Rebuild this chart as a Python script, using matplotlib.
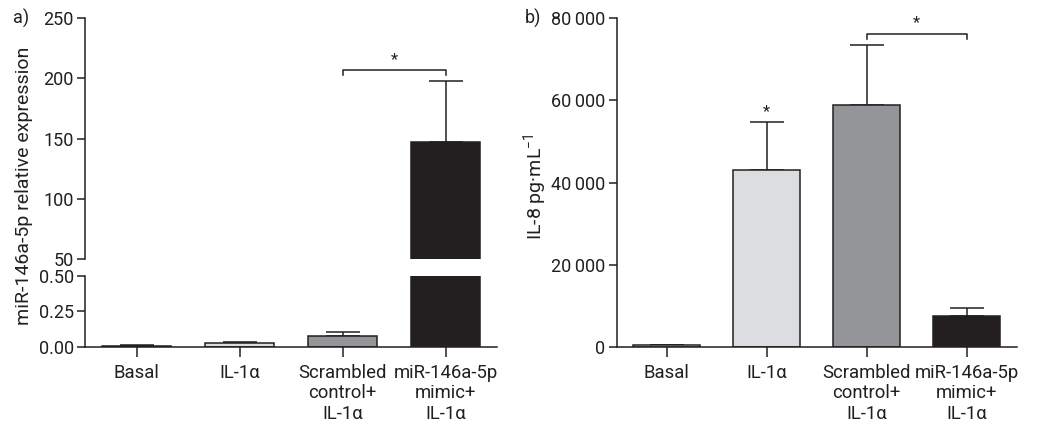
import matplotlib
matplotlib.use("Agg")
import matplotlib.pyplot as plt
import numpy as np

plt.rcParams['font.family'] = ['Roboto', 'DejaVu Sans']
plt.rcParams['mathtext.fontset'] = 'custom'
plt.rcParams['mathtext.rm'] = 'Roboto'
plt.rcParams['mathtext.it'] = 'Roboto'

categories = ["Basal", "IL-1\u03b1", "Scrambled\ncontrol+\nIL-1\u03b1", "miR-146a-5p\nmimic+\nIL-1\u03b1"]
mir_mean = [0.010, 0.025, 0.079, 147.4]
mir_err = [0.003, 0.008, 0.028, 50.4]
il8_mean = [410, 43000, 58800, 7600]
il8_err = [150, 11800, 14600, 1950]
bar_colors = ["#ffffff", "#dcdde0", "#939598", "#231f20"]

upper_ticks = [50, 100, 150, 200, 250]
lower_ticks = [0.0, 0.25, 0.50]
lower_ticklabels = ["0.00", "0.25", "0.50"]
il8_ticks = [0, 20000, 40000, 60000, 80000]
il8_ticklabels = ["0", "20\u2009000", "40\u2009000", "60\u2009000", "80\u2009000"]

W, H = 1048, 425
fig = plt.figure(figsize=(W / 100, H / 100), dpi=100)

def rect(x0, y0, x1, y1):
    return [x0 / W, 1 - y1 / H, (x1 - x0) / W, (y1 - y0) / H]

ax_up = fig.add_axes(rect(85, 18, 497, 259))
ax_lo = fig.add_axes(rect(85, 275.7, 497, 347))
ax_b = fig.add_axes(rect(616.7, 18, 1016.7, 347))

x = np.arange(len(categories))
bw = 0.67
lw = 1.1
tick_fs = 13
xlab_fs = 13.3
lab_fs = 14
cap = 12

def style(ax, bottom=True):
    for s in ["top", "right"]:
        ax.spines[s].set_visible(False)
    ax.spines["bottom"].set_visible(bottom)
    for s in ["left", "bottom"]:
        ax.spines[s].set_linewidth(lw)
        ax.spines[s].set_color("#231f20")
    ax.tick_params(axis="y", length=6, width=lw, labelsize=tick_fs, pad=2, colors="#231f20")
    ax.tick_params(axis="x", length=7, width=lw, labelsize=xlab_fs, pad=5, colors="#231f20")
    ax.set_xlim(-0.5, 3.5)

# Panel a upper
ax_up.bar(x, mir_mean, width=bw, color=bar_colors, edgecolor="#231f20", linewidth=lw, zorder=2)
ax_up.errorbar(x, mir_mean, yerr=[np.zeros(4), mir_err], fmt="none", ecolor="#231f20",
               elinewidth=lw, capsize=cap, capthick=lw, zorder=1)
ax_up.set_ylim(50, 250)
ax_up.set_yticks(upper_ticks)
ax_up.set_xticks([])
style(ax_up, bottom=False)

# Panel a lower
ax_lo.bar(x, mir_mean, width=bw, color=bar_colors, edgecolor="#231f20", linewidth=lw, zorder=2)
ax_lo.errorbar(x, mir_mean, yerr=[np.zeros(4), mir_err], fmt="none", ecolor="#231f20",
               elinewidth=lw, capsize=cap, capthick=lw, zorder=1)
ax_lo.set_ylim(0, 0.5)
ax_lo.set_yticks(lower_ticks)
ax_lo.set_yticklabels(lower_ticklabels)
ax_lo.set_xticks(x)
ax_lo.set_xticklabels(categories, linespacing=1.2)
style(ax_lo)

# bracket a
by, bd = 207, 203
ax_up.plot([2, 2, 3, 3], [bd, by, by, bd], color="#231f20", lw=lw, clip_on=False)
ax_up.text(2.5, by + 2.5, "*", ha="center", va="bottom", fontsize=12, color="#231f20")

# Panel b
ax_b.bar(x, il8_mean, width=bw, color=bar_colors, edgecolor="#231f20", linewidth=lw, zorder=2)
ax_b.errorbar(x, il8_mean, yerr=[np.zeros(4), il8_err], fmt="none", ecolor="#231f20",
              elinewidth=lw, capsize=cap, capthick=lw, zorder=1)
ax_b.set_ylim(0, 80000)
ax_b.set_yticks(il8_ticks)
ax_b.set_yticklabels(il8_ticklabels)
ax_b.set_xticks(x)
ax_b.set_xticklabels(categories, linespacing=1.2)
style(ax_b)
ax_b.text(1, il8_mean[1] + il8_err[1] + 600, "*", ha="center", va="bottom", fontsize=12, color="#231f20")
by2, bd2 = 76000, 74800
ax_b.plot([2, 2, 3, 3], [bd2, by2, by2, bd2], color="#231f20", lw=lw, clip_on=False)
ax_b.text(2.5, by2 + 1000, "*", ha="center", va="bottom", fontsize=12, color="#231f20")

# labels
fig.text(24 / W, 1 - 186 / H, "miR-146a-5p relative expression", rotation=90,
         ha="center", va="center", fontsize=lab_fs, color="#231f20")
fig.text(535 / W, 1 - 187 / H, "IL-8 pg\u00b7mL$^{-1}$", rotation=90,
         ha="center", va="center", fontsize=lab_fs, color="#231f20")
fig.text(13 / W, 1 - 18 / H, "a)", ha="left", va="center", fontsize=tick_fs, color="#231f20")
fig.text(525 / W, 1 - 18 / H, "b)", ha="left", va="center", fontsize=tick_fs, color="#231f20")

fig.savefig("out.png", dpi=100)
